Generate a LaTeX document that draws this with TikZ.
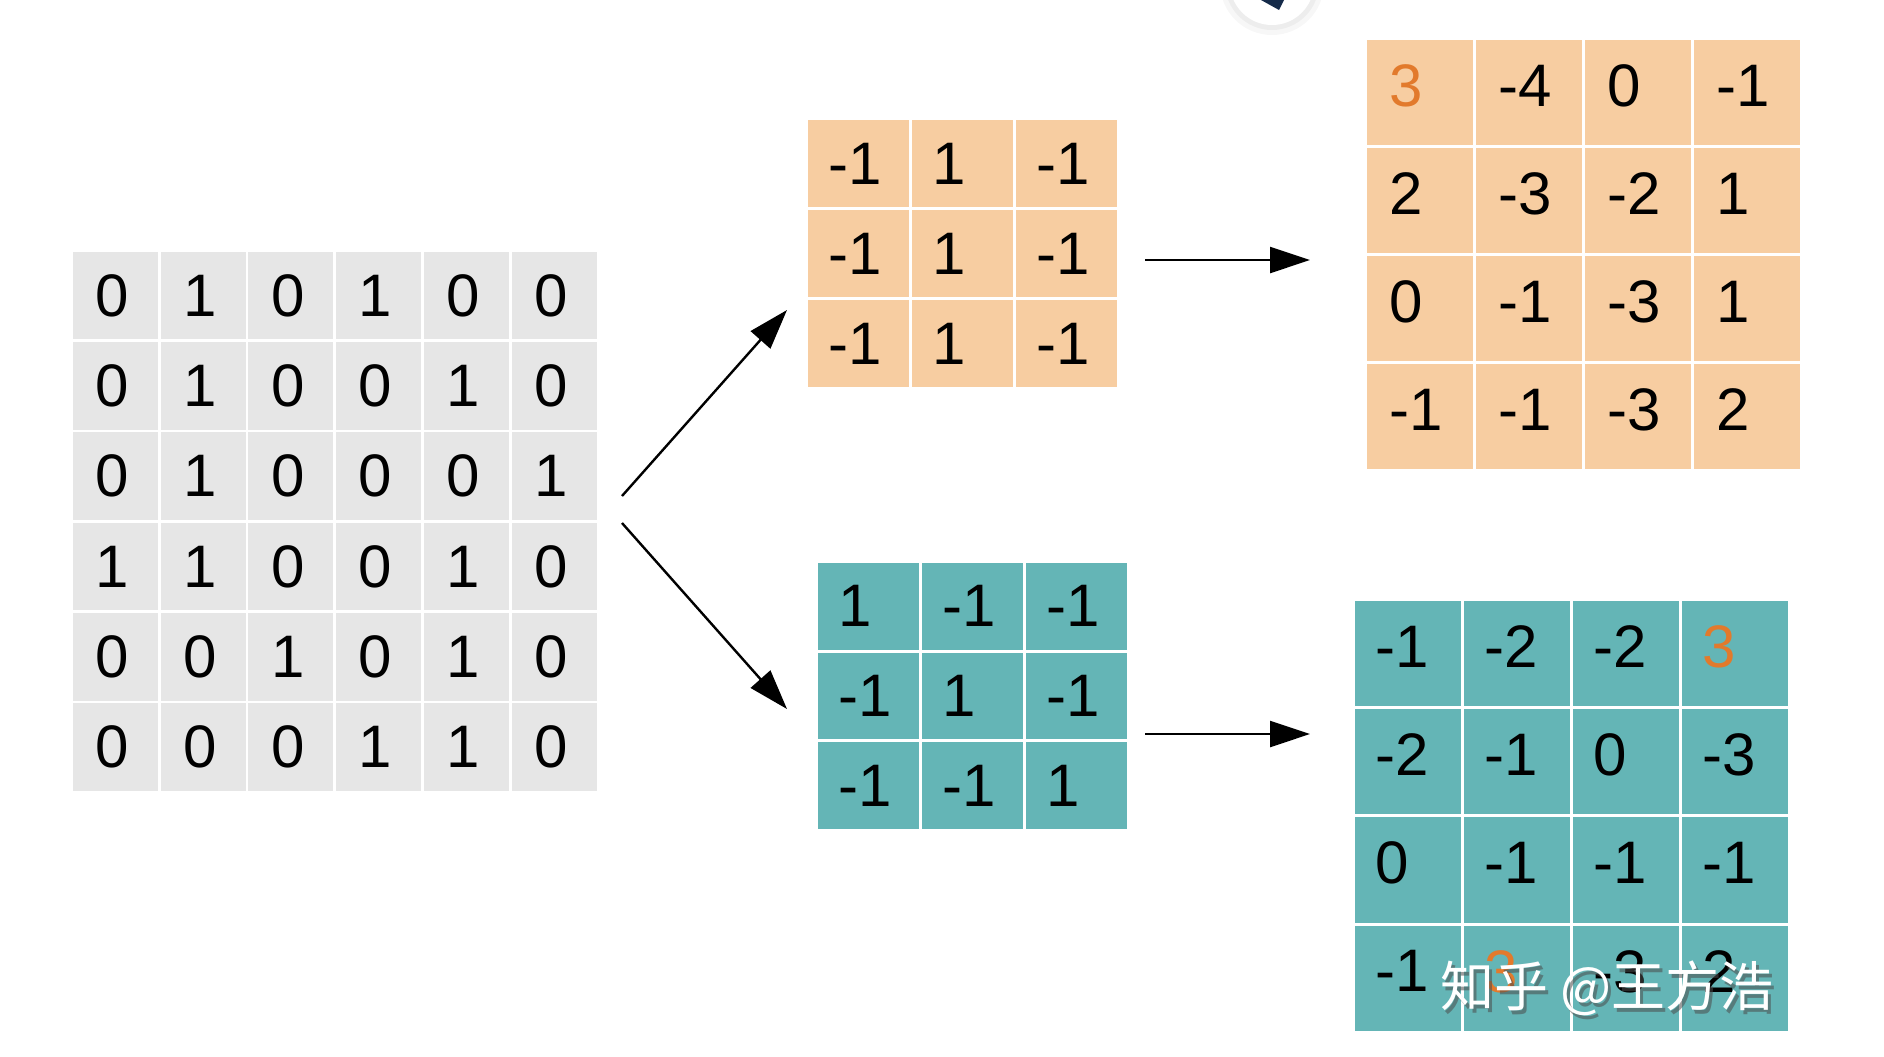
\documentclass[tikz,border=0pt]{standalone}
\usepackage{fontspec}
\setmainfont{Liberation Sans}
\newfontfamily\cjkfont{Noto Sans CJK SC}
\usetikzlibrary{arrows.meta}
\definecolor{cellgrey}{HTML}{E6E6E6}
\definecolor{cellorange}{HTML}{F7CDA1}
\definecolor{cellteal}{HTML}{64B5B6}
\definecolor{hiorange}{HTML}{E27A2C}
\definecolor{btnnavy}{HTML}{152B4A}
\newcommand{\hinum}[1]{\textcolor{hiorange}{#1}}
\tikzset{
	cell/.style={draw=white, line width=1.4pt, inner sep=0pt, anchor=north west, align=left, font=\fontsize{30}{30}\selectfont},
	incell/.style={cell, fill=cellgrey, text width=43.9pt, minimum height=45.15pt},
	kacell/.style={cell, fill=cellorange, text width=52pt, minimum height=45pt},
	kbcell/.style={cell, fill=cellteal, text width=52pt, minimum height=44.85pt},
	outcell/.style={cell, text width=54.5pt, minimum height=54pt, text depth=7pt},
	flow/.style={line width=1.2pt, -{Triangle[length=20pt,width=13pt]}},
}
\begin{document}
\begin{tikzpicture}[x=0.5pt, y=-0.5pt]
	\useasboundingbox (0,0) rectangle (1884,1056);
	\fill[black, opacity=0.03] (1272,-17) circle (52);
	\fill[black, opacity=0.04] (1272,-17) circle (47);
	\fill[white] (1272,-17) circle (42);
	\fill[btnnavy] (1261,0) -- (1284,0) -- (1279,10) -- cycle;
	% input
	\foreach \row [count=\r from 0] in {{0,1,0,1,0,0},{0,1,0,0,1,0},{0,1,0,0,0,1},{1,1,0,0,1,0},{0,0,1,0,1,0},{0,0,0,1,1,0}}
		\foreach \v [count=\c from 0] in \row
			\node[incell] (in-\r-\c) at (70+\c*87.8, 249+\r*90.3) {\hspace*{12pt}\v};
	% kernels
	\foreach \row [count=\r from 0] in {{-1,1,-1},{-1,1,-1},{-1,1,-1}}
		\foreach \v [count=\c from 0] in \row
			\node[kacell] (ka-\r-\c) at (805+\c*104, 117+\r*90) {\hspace*{11pt}\v};
	\foreach \row [count=\r from 0] in {{1,-1,-1},{-1,1,-1},{-1,-1,1}}
		\foreach \v [count=\c from 0] in \row
			\node[kbcell] (kb-\r-\c) at (815+\c*104, 560+\r*89.7) {\hspace*{11pt}\v};
	% feature maps
	\foreach \row [count=\r from 0] in {{\hinum{3},-4,0,-1},{2,-3,-2,1},{0,-1,-3,1},{-1,-1,-3,2}}
		\foreach \v [count=\c from 0] in \row
			\node[outcell, fill=cellorange] (oa-\r-\c) at (1364+\c*109, 37+\r*108) {\hspace*{12pt}\v};
	\foreach \row [count=\r from 0] in {{-1,-2,-2,\hinum{3}},{-2,-1,0,-3},{0,-1,-1,-1},{-1,\hinum{3},-3,2}}
		\foreach \v [count=\c from 0] in \row
			\node[outcell, fill=cellteal] (ob-\r-\c) at (1352+\c*109, 598+\r*108.3) {\hspace*{11pt}\v};
	\coordinate (fork-up) at (622,496);
	\coordinate (fork-down) at (622,523);
	\coordinate (ka-in) at (787,310);
	\coordinate (kb-in) at (787,709);
	\coordinate (ka-out) at (1145,260);
	\coordinate (kb-out) at (1145,734);
	\coordinate (oa-in) at (1310,260);
	\coordinate (ob-in) at (1310,734);
	\draw[flow] (fork-up) -- (ka-in);
	\draw[flow] (fork-down) -- (kb-in);
	\draw[flow] (ka-out) -- (oa-in);
	\draw[flow] (kb-out) -- (ob-in);
	\node[font=\cjkfont\fontsize{27}{27}\selectfont, text=black!70, opacity=0.55] (mark-shadow) at (1610,992) {知乎 @王方浩};
	\node[font=\cjkfont\fontsize{27}{27}\selectfont, text=white] (mark) at (1607,988) {知乎 @王方浩};
\end{tikzpicture}
\end{document}
